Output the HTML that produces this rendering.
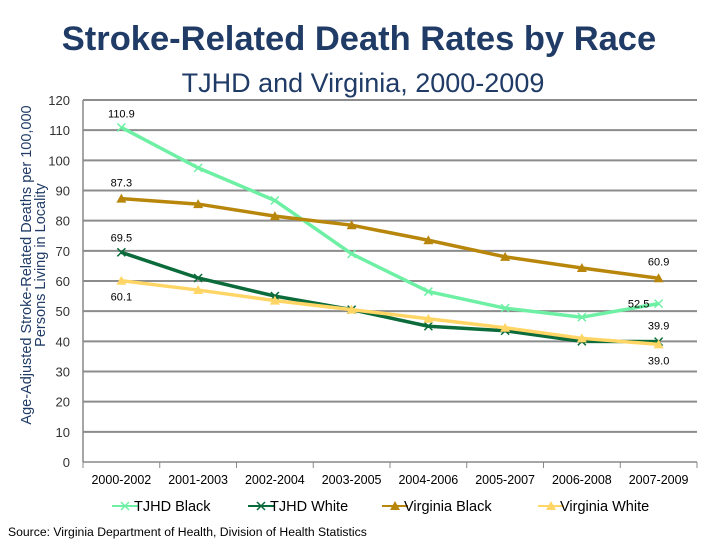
<!DOCTYPE html>
<html><head><meta charset="utf-8"><style>
body{margin:0;background:#fff;font-family:"Liberation Sans",sans-serif;}
svg text{font-family:"Liberation Sans",sans-serif;}
</style></head><body>
<svg id="c" width="720" height="540" xmlns="http://www.w3.org/2000/svg">
<text x="359" y="50" text-anchor="middle" font-size="34.5" font-weight="bold" fill="#1f3b66">Stroke-Related Death Rates by Race</text>
<text x="363" y="92" text-anchor="middle" font-size="27" fill="#1f3b66">TJHD and Virginia, 2000-2009</text>
<text transform="translate(31,265) rotate(-90)" text-anchor="middle" font-size="14.5" fill="#1f3b66">Age-Adjusted Stroke-Related Deaths per 100,000</text>
<text transform="translate(45,265) rotate(-90)" text-anchor="middle" font-size="14.5" fill="#1f3b66">Persons Living in Locality</text>
<g id="grid"></g><g id="series"></g><g id="labels"></g>
<text x="8" y="536" font-size="12.2" fill="#000">Source: Virginia Department of Health, Division of Health Statistics</text>
</svg>
<script>
const categories=["2000-2002","2001-2003","2002-2004","2003-2005","2004-2006","2005-2007","2006-2008","2007-2009"];
const tjhdBlack=[110.9,97.5,86.7,69,56.5,51,48,52.5];
const tjhdWhite=[69.5,61,55,50.5,45,43.5,40,39.9];
const vaBlack=[87.3,85.5,81.5,78.5,73.5,68,64.3,60.9];
const vaWhite=[60.1,57,53.5,50.5,47.5,44.5,41,39.0];
const yTicks=[0,10,20,30,40,50,60,70,80,90,100,110,120];
const seriesNames=["TJHD Black","TJHD White","Virginia Black","Virginia White"];
const NS="http://www.w3.org/2000/svg";
const L=83,R=697,T=100,B=462;
const bw=(R-L)/categories.length;
const x=i=>L+bw*(i+0.5);
const y=v=>B-(v/120)*(B-T);
function mk(tag,attrs,parent){const e=document.createElementNS(NS,tag);for(const k in attrs)e.setAttribute(k,attrs[k]);parent.appendChild(e);return e;}
const grid=document.getElementById('grid');
yTicks.forEach(t=>{
  const l=mk('line',{x1:L,x2:R,y1:y(t),y2:y(t),stroke:t===0?'#888':'#8c8c8c','stroke-width':t===0?1.5:2},grid);
  
  
  const tx=mk('text',{x:70,y:y(t)+5,'text-anchor':'end','font-size':13,fill:'#333'},grid);
  tx.textContent=t;
  
  
});
const ax=mk('line',{x1:L,x2:L,y1:T,y2:B,stroke:'#888','stroke-width':1.5},grid);


categories.forEach((c,i)=>{
  const tk=mk('line',{x1:L+bw*i,x2:L+bw*i,y1:B,y2:B+6,stroke:'#888'},grid);
  
  
  const tx=mk('text',{x:x(i),y:B+22,'text-anchor':'middle','font-size':12.5,fill:'#000'},grid);
  tx.textContent=c;
  
  
});
mk('line',{x1:R,x2:R,y1:B,y2:B+6,stroke:'#888'},grid);
const S=document.getElementById('series');
const defs=[[tjhdBlack,'#6ef0a4','x'],[vaBlack,'#b8860b','tri'],[tjhdWhite,'#0b6b3a','x'],[vaWhite,'#ffd666','tri']];
function marker(type,cx,cy,col,g){
  if(type==='x'){return mk('path',{d:`M${cx-4},${cy-4}L${cx+4},${cy+4}M${cx-4},${cy+4}L${cx+4},${cy-4}`,stroke:col,'stroke-width':1.5,fill:'none'},g);}
  return mk('path',{d:`M${cx},${cy-5}L${cx+5},${cy+4}L${cx-5},${cy+4}Z`,fill:col},g);
}
const order=[0,2,1,3];
defs.forEach((d,k)=>{
  const [vals,col,mt]=d;
  const g=mk('g',{},S);
  
  
  const pl=mk('polyline',{points:vals.map((v,i)=>x(i)+','+y(v)).join(' '),fill:'none',stroke:col,'stroke-width':3.5,'stroke-linejoin':'round'},g);
  
  
  vals.forEach((v,i)=>{const m=marker(mt,x(i),y(v),col,g);
    
    });
});
const lab=document.getElementById('labels');
function lbl(txt,lx,ly){const t=mk('text',{x:lx,y:ly,'text-anchor':'middle','font-size':11,fill:'#000'},lab);t.textContent=txt;
  
  }
lbl(tjhdBlack[0].toFixed(1),x(0),y(tjhdBlack[0])-10);
lbl(vaBlack[0].toFixed(1),x(0),y(vaBlack[0])-12);
lbl(tjhdWhite[0].toFixed(1),x(0),y(tjhdWhite[0])-11);
lbl(vaWhite[0].toFixed(1),x(0),y(vaWhite[0])+20);
lbl(vaBlack[7].toFixed(1),x(7),y(vaBlack[7])-13);
lbl(tjhdBlack[7].toFixed(1),x(7)-20,y(tjhdBlack[7])+4);
lbl(tjhdWhite[7].toFixed(1),x(7),y(tjhdWhite[7])-12);
lbl(vaWhite[7].toFixed(1),x(7),y(vaWhite[7])+20);
const legX=[112,248,382,538],legCols=['#6ef0a4','#0b6b3a','#b8860b','#ffd666'],legM=['x','x','tri','tri'];
seriesNames.forEach((n,i)=>{
  const g=mk('g',{},S);
  
  
  mk('line',{x1:legX[i],x2:legX[i]+26,y1:506,y2:506,stroke:legCols[i],'stroke-width':2},g);
  marker(legM[i],legX[i]+13,506,legCols[i],g);
  const t=mk('text',{x:legX[i]+22,y:511,'font-size':14.5,fill:'#000'},g);t.textContent=n;
});
</script>
</body></html>
